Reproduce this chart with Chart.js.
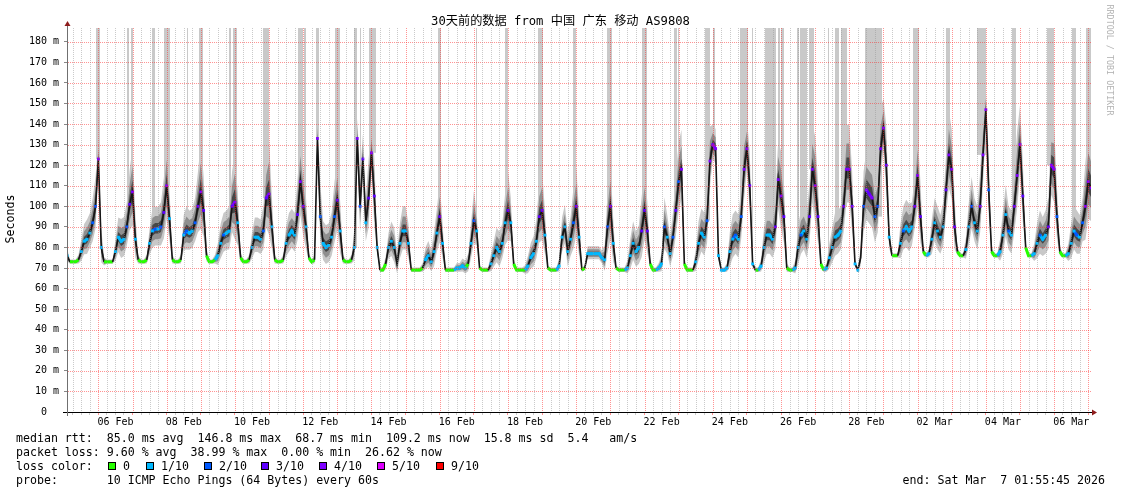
<!DOCTYPE html>
<html>
<head>
<meta charset="utf-8">
<title>SmokePing 30 days</title>
<script src="https://cdn.jsdelivr.net/npm/chart.js@4.4.1/dist/chart.umd.min.js"></script>
<style>
    html, body { margin: 0; padding: 0; background: #fff; }
    #wrap { position: relative; width: 1121px; height: 494px; overflow: hidden; }
    #chart { position: absolute; left: 0; top: 0; }
    .mono { position: absolute; font-family: "DejaVu Sans Mono", monospace; white-space: pre; color: #000; }
    .title { left: 0; width: 1121px; top: 13px; line-height: 16px; text-align: center;
             font-family: "DejaVu Sans Mono", "Noto Sans CJK SC", monospace; font-size: 12.2px; }
    .ylab { left: -30px; top: 212px; width: 80px; height: 14px; line-height: 14px; text-align: center;
            font-size: 11.6px; transform: rotate(-90deg); }
    .mark { left: 1050px; top: 55px; width: 120px; height: 10px; line-height: 10px; text-align: center;
            font-size: 8.4px; color: #b4b4b4; transform: rotate(90deg); }
    .leg { font-size: 11.6px; line-height: 14px; }
    .box { position: absolute; width: 6px; height: 6px; border: 1px solid #000; }
</style>
</head>
<body>
<div id="wrap">
    <canvas id="chart" width="1121" height="494"></canvas>
    <div class="mono title">30天前的数据 from 中国 广东 移动 AS9808</div>
    <div class="mono ylab">Seconds</div>
    <div class="mono mark">RRDTOOL / TOBI OETIKER</div>
    <div class="mono leg" style="left:16px;top:431px">median rtt:  85.0 ms avg  146.8 ms max  68.7 ms min  109.2 ms now  15.8 ms sd  5.4   am/s</div>
    <div class="mono leg" style="left:16px;top:445px">packet loss: 9.60 % avg  38.99 % max  0.00 % min  26.62 % now</div>
    <div class="mono leg" style="left:16px;top:459px">loss color:</div>
    <div id="lossLegend"></div>
    <div class="mono leg" style="left:16px;top:473px">probe:       10 ICMP Echo Pings (64 Bytes) every 60s</div>
    <div class="mono leg" style="right:16px;top:473px">end: Sat Mar  7 01:55:45 2026</div>
</div>
<script>
(function () {
    "use strict";

    // Time axis: hours counted from 05 Feb 00:00, samples every 2 hours
    var startHour = 1.93;      // 05 Feb 01:55:45
    var endHour = 721.93;      // 07 Mar 01:55:45
    var firstHour = 2;
    var stepHours = 2;

    var xLabels = ['06 Feb', '08 Feb', '10 Feb', '12 Feb', '14 Feb', '16 Feb', '18 Feb', '20 Feb',
                   '22 Feb', '24 Feb', '26 Feb', '28 Feb', '02 Mar', '04 Mar', '06 Mar'];
    var yLabels = ['0', '10 m', '20 m', '30 m', '40 m', '50 m', '60 m', '70 m', '80 m', '90 m',
                   '100 m', '110 m', '120 m', '130 m', '140 m', '150 m', '160 m', '170 m', '180 m'];

    // Median RTT (ms), one row per day, 00:00 .. 22:00
    var median = [
        76, 73, 73, 73, 74, 78, 83, 84, 87, 92, 100,                // 05 Feb (from 02:00)
        123, 80, 73, 73, 73, 73, 78, 85, 83, 84, 90, 101,          // 06 Feb
        107, 84, 74, 73, 73, 74, 82, 88, 89, 89, 90, 97,           // 07 Feb
        110, 94, 74, 73, 73, 74, 86, 88, 87, 88, 92, 100,          // 08 Feb
        107, 98, 76, 73, 73, 74, 76, 82, 86, 87, 88, 100,          // 09 Feb
        102, 92, 75, 73, 73, 74, 80, 85, 85, 84, 88, 104,          // 10 Feb
        106, 90, 74, 73, 73, 74, 82, 86, 88, 86, 96, 112,          // 11 Feb
        100, 90, 75, 73, 74, 133, 95, 82, 80, 81, 85, 95,          // 12 Feb
        103, 88, 74, 73, 73, 74, 80, 133, 100, 123, 92, 104,       // 13 Feb
        126, 105, 80, 69, 69, 72, 80, 83, 80, 72, 82, 88,          // 14 Feb
        88, 82, 69, 69, 69, 69, 70, 74, 76, 73, 78, 87,            // 15 Feb
        95, 82, 69, 69, 69, 69, 70, 70, 71, 70, 72, 82,            // 16 Feb
        93, 88, 70, 69, 69, 69, 72, 76, 80, 78, 82, 92,            // 17 Feb
        98, 92, 72, 69, 69, 69, 69, 71, 75, 77, 83, 95,            // 18 Feb
        98, 86, 70, 69, 69, 69, 71, 85, 90, 78, 84, 92,            // 19 Feb
        100, 85, 69, 70, 77, 77, 77, 77, 77, 75, 74, 90,           // 20 Feb
        100, 82, 70, 69, 69, 69, 70, 76, 82, 78, 80, 88,           // 21 Feb
        98, 88, 72, 69, 69, 70, 72, 90, 85, 77, 85, 98,            // 22 Feb
        112, 118, 72, 69, 69, 69, 73, 82, 87, 85, 93, 122,         // 23 Feb
        130, 128, 76, 69, 69, 70, 78, 84, 86, 84, 95, 118,         // 24 Feb
        128, 110, 72, 69, 69, 71, 80, 86, 86, 84, 90, 113,         // 25 Feb
        105, 95, 70, 69, 69, 70, 80, 86, 88, 84, 95, 118,          // 26 Feb
        110, 95, 72, 69, 70, 75, 80, 85, 86, 88, 100, 118,         // 27 Feb
        118, 100, 72, 69, 75, 100, 108, 106, 104, 95, 100, 128,    // 28 Feb
        138, 120, 85, 76, 76, 76, 82, 88, 90, 88, 90, 100,         // 01 Mar
        115, 95, 78, 76, 77, 84, 92, 88, 85, 90, 108, 125,         // 02 Mar
        118, 90, 78, 76, 76, 79, 90, 100, 92, 88, 100, 125,        // 03 Mar
        147, 108, 78, 76, 76, 78, 86, 96, 88, 86, 100, 115,        // 04 Mar
        130, 105, 80, 76, 76, 77, 82, 86, 84, 86, 90, 120,         // 05 Mar
        118, 95, 78, 76, 76, 77, 82, 88, 86, 85, 92, 100,          // 06 Mar
        112, 109                                                   // 07 Mar
    ];

    // Packet loss, in tenths (0 .. 9)
    var loss = [
        1, 0, 0, 0, 0, 1, 1, 1, 1, 2, 2,
        4, 1, 0, 0, 0, 0, 1, 1, 1, 1, 2, 3,
        4, 1, 0, 0, 0, 0, 1, 1, 2, 1, 2, 3,
        4, 1, 0, 0, 0, 0, 1, 2, 1, 1, 2, 3,
        4, 3, 0, 0, 0, 0, 1, 1, 2, 1, 1, 3,
        4, 1, 0, 0, 0, 0, 1, 1, 1, 1, 2, 3,
        4, 1, 0, 0, 0, 0, 1, 1, 1, 1, 3, 4,
        3, 1, 0, 0, 0, 4, 2, 1, 1, 1, 1, 2,
        3, 1, 0, 0, 0, 0, 1, 4, 2, 3, 1, 3,
        4, 3, 1, 0, 0, 0, 1, 1, 1, 0, 1, 1,
        1, 1, 0, 0, 0, 0, 0, 1, 1, 1, 1, 1,
        3, 1, 0, 0, 0, 0, 1, 1, 1, 1, 0, 1,
        2, 1, 0, 0, 0, 0, 1, 1, 1, 1, 1, 1,
        3, 1, 0, 0, 0, 0, 0, 1, 1, 1, 1, 3,
        3, 1, 0, 0, 0, 0, 1, 1, 1, 1, 1, 2,
        3, 1, 0, 0, 1, 1, 1, 1, 1, 1, 1, 2,
        3, 1, 0, 0, 0, 0, 1, 1, 1, 1, 1, 3,
        3, 3, 0, 0, 0, 1, 1, 2, 1, 1, 2, 3,
        2, 4, 0, 0, 0, 0, 1, 1, 1, 1, 2, 4,
        4, 4, 1, 1, 1, 1, 1, 1, 2, 1, 2, 4,
        4, 3, 1, 0, 0, 1, 1, 1, 1, 1, 3, 4,
        4, 3, 0, 0, 0, 1, 1, 2, 1, 1, 3, 4,
        4, 3, 0, 0, 1, 1, 1, 1, 1, 1, 3, 4,
        4, 3, 1, 1, 0, 2, 4, 3, 4, 2, 2, 4,
        4, 3, 1, 0, 0, 0, 1, 2, 1, 1, 1, 3,
        4, 3, 0, 0, 1, 1, 1, 1, 1, 1, 3, 4,
        4, 3, 0, 0, 0, 1, 1, 2, 1, 1, 3, 4,
        4, 2, 0, 0, 0, 1, 1, 1, 2, 1, 3, 4,
        4, 3, 0, 0, 0, 1, 1, 2, 1, 1, 3, 4,
        4, 2, 0, 0, 0, 1, 1, 1, 2, 1, 2, 4,
        4, 4
    ];

    // Smoke spread (ms) around the median
    var spread = [
        3, 1, 1, 1, 2, 5, 7, 8, 8, 10, 12,
        8, 8, 2, 1, 1, 1, 5, 8, 9, 9, 10, 14,
        18, 10, 2, 1, 1, 2, 6, 9, 9, 9, 10, 14,
        18, 12, 2, 1, 1, 2, 8, 10, 9, 9, 10, 14,
        20, 14, 3, 1, 1, 2, 5, 8, 9, 9, 10, 14,
        20, 12, 2, 1, 1, 2, 6, 8, 8, 8, 10, 16,
        22, 12, 2, 1, 1, 2, 7, 9, 9, 9, 14, 18,
        16, 12, 2, 1, 2, 8, 14, 9, 9, 9, 10, 14,
        16, 12, 2, 1, 1, 2, 7, 8, 14, 10, 10, 16,
        10, 16, 3, 1, 1, 3, 6, 8, 8, 5, 8, 10,
        10, 8, 1, 1, 1, 1, 2, 5, 6, 5, 8, 10,
        14, 8, 1, 1, 1, 1, 2, 2, 3, 3, 4, 8,
        12, 8, 1, 1, 1, 1, 4, 6, 8, 8, 8, 12,
        16, 10, 2, 1, 1, 1, 2, 4, 6, 7, 9, 14,
        16, 10, 1, 1, 1, 1, 3, 8, 9, 8, 9, 14,
        16, 10, 1, 1, 3, 3, 3, 3, 3, 3, 6, 14,
        18, 10, 1, 1, 1, 1, 3, 7, 9, 8, 9, 14,
        16, 12, 2, 1, 1, 2, 4, 12, 9, 7, 10, 14,
        16, 16, 2, 1, 1, 1, 5, 9, 10, 10, 12, 14,
        8, 8, 3, 1, 1, 2, 8, 10, 10, 10, 12, 16,
        12, 14, 2, 1, 1, 3, 8, 10, 10, 10, 12, 16,
        18, 14, 2, 1, 1, 3, 9, 10, 10, 10, 14, 18,
        20, 14, 2, 1, 2, 6, 8, 10, 10, 10, 14, 18,
        18, 14, 2, 1, 4, 14, 16, 16, 16, 14, 14, 16,
        12, 16, 6, 1, 1, 1, 8, 10, 11, 11, 10, 12,
        18, 14, 2, 1, 2, 8, 10, 10, 9, 10, 14, 18,
        16, 12, 2, 1, 1, 5, 10, 12, 10, 10, 14, 16,
        8, 14, 2, 1, 1, 5, 10, 12, 10, 10, 14, 18,
        16, 14, 2, 1, 1, 4, 8, 10, 9, 10, 12, 16,
        18, 12, 2, 1, 1, 4, 8, 10, 10, 9, 10, 18,
        20, 18
    ];

    // Outlier pings above the graph top: [from hour, to hour]
    var outliers = [
        [22.5, 24.9], [44.1, 45.5], [46.9, 48.3], [61.7, 63.8], [70.1, 74.4], [86.3, 87.0],
        [94.8, 97.6], [115.9, 117.3], [118.7, 121.5], [139.6, 144.2], [164.2, 167.7],
        [168.6, 170.0], [177.0, 179.4], [190.6, 193.9], [204.0, 205.7], [208.0, 208.7],
        [214.5, 219.2], [262.8, 265.2], [289.8, 290.5], [309.7, 312.1], [333.2, 336.7],
        [357.8, 360.1], [381.5, 385.0], [406.1, 409.6], [428.8, 430.7], [431.4, 432.5],
        [450.6, 454.1], [456.4, 457.6], [475.2, 477.1], [477.5, 480.6], [483.6, 484.4],
        [493.0, 500.5], [501.9, 503.5], [504.3, 505.9], [515.3, 516.5], [517.6, 522.3],
        [524.0, 527.0], [537.1, 538.0], [541.8, 545.0], [546.5, 550.5], [563.3, 575.1],
        [596.7, 600.9], [619.9, 622.9], [642.1, 648.0], [666.7, 669.1], [691.3, 696.0],
        [708.9, 711.3], [718.3, 721.8]
    ];

    var lossLevels = [0, 1, 2, 3, 4, 5, 9];
    var lossNames = ['0', '1/10', '2/10', '3/10', '4/10', '5/10', '9/10'];


    // Colours
    var lossColors = { 0: '#26ff00', 1: '#00b8ff', 2: '#0059ff', 3: '#5e00ff', 4: '#7e00ff', 5: '#dd00ff', 9: '#ff0000' };
    var majorGrid = 'rgba(255, 40, 40, 0.5)';
    var minorGrid = 'rgba(150, 150, 150, 0.5)';
    var monoFont = 'DejaVu Sans Mono';


    // Loss colour legend
    var legendBoxX = [108, 146, 204, 261, 319, 377, 436];
    var legendHtml = '';
    lossLevels.forEach(function (lv, i) {
        legendHtml += '<div class="box" style="left:' + legendBoxX[i] + 'px;top:462px;background:' + lossColors[lv] + '"></div>';
        legendHtml += '<div class="mono leg" style="left:' + (legendBoxX[i] + 15) + 'px;top:459px">' + lossNames[i] + '</div>';
    });
    document.getElementById('lossLegend').innerHTML = legendHtml;


    var hours = median.map(function (v, i) { return firstHour + i * stepHours; });

    function band(k) {
        return median.map(function (v, i) { return { x: hours[i], y: v + spread[i] * k }; });
    }

    function medianAt(h) {
        var i = Math.round((h - firstHour) / stepHours);
        i = Math.max(0, Math.min(median.length - 1, i));
        return median[i];
    }


    // Outlier bars, drawn behind the smoke
    var outlierPlugin = {
        id: 'outliers',
        beforeDatasetsDraw: function (chart) {
            var xs = chart.scales.x, ys = chart.scales.y, a = chart.chartArea, ctx = chart.ctx;
            ctx.save();
            ctx.beginPath();
            ctx.rect(a.left, a.top, a.right - a.left, a.bottom - a.top);
            ctx.clip();
            ctx.fillStyle = '#c9c9c9';
            outliers.forEach(function (o) {
                var x0 = Math.round(xs.getPixelForValue(o[0]));
                var x1 = Math.round(xs.getPixelForValue(o[1]));
                var yb = ys.getPixelForValue(medianAt((o[0] + o[1]) / 2));
                ctx.fillRect(x0, a.top, Math.max(1, x1 - x0), yb - a.top);
            });
            ctx.restore();
        }
    };


    // Dotted rrdtool style grid, drawn over the graph
    var gridPlugin = {
        id: 'dotGrid',
        afterDatasetsDraw: function (chart) {
            var xs = chart.scales.x, ys = chart.scales.y, a = chart.chartArea, ctx = chart.ctx;
            var top = Math.round(a.top), bottom = Math.round(a.bottom);
            var left = Math.round(a.left), right = Math.round(a.right);
            ctx.save();
            ys.ticks.forEach(function (t) {
                if (t.value === 0) { return; }
                var py = Math.round(ys.getPixelForValue(t.value));
                ctx.fillStyle = t.value % 10 === 0 ? majorGrid : minorGrid;
                for (var xx = left + 1; xx < right; xx += 2) { ctx.fillRect(xx, py, 1, 1); }
            });
            xs.ticks.forEach(function (t) {
                var px = Math.round(xs.getPixelForValue(t.value));
                ctx.fillStyle = t.value % 24 === 0 ? majorGrid : minorGrid;
                for (var yy = top; yy < bottom; yy += 2) { ctx.fillRect(px, yy, 1, 1); }
            });
            ctx.restore();
        }
    };


    // Axis lines with arrow heads
    var axesPlugin = {
        id: 'axes',
        afterDraw: function (chart) {
            var a = chart.chartArea, ctx = chart.ctx;
            ctx.save();
            ctx.lineWidth = 1;
            ctx.strokeStyle = '#000';
            ctx.beginPath();
            ctx.moveTo(a.left - 4, a.bottom + 0.5);
            ctx.lineTo(a.right + 2, a.bottom + 0.5);
            ctx.stroke();
            ctx.strokeStyle = '#707070';
            ctx.beginPath();
            ctx.moveTo(a.left + 0.5, a.bottom + 4);
            ctx.lineTo(a.left + 0.5, a.top - 3);
            ctx.stroke();
            ctx.fillStyle = '#8e1c1c';
            ctx.beginPath();
            ctx.moveTo(a.left + 0.5, a.top - 7);
            ctx.lineTo(a.left - 2.5, a.top - 2);
            ctx.lineTo(a.left + 3.5, a.top - 2);
            ctx.closePath();
            ctx.fill();
            ctx.beginPath();
            ctx.moveTo(a.right + 6, a.bottom + 0.5);
            ctx.lineTo(a.right + 1, a.bottom - 2.5);
            ctx.lineTo(a.right + 1, a.bottom + 3.5);
            ctx.closePath();
            ctx.fill();
            ctx.restore();
        }
    };


    function smoke(k, color, fillIt, order) {
        return {
            data: band(k),
            borderColor: 'rgba(0,0,0,0)',
            borderWidth: 0,
            backgroundColor: color,
            fill: fillIt ? '+1' : false,
            pointRadius: 0,
            tension: 0,
            order: order
        };
    }

    var ctx = document.getElementById('chart').getContext('2d');
    new Chart(ctx, {
        type: 'line',
        data: {
            datasets: [
                smoke(1.2, '#c8c8c8', true, 10),
                smoke(-0.9, '#c8c8c8', false, 10),
                smoke(0.7, '#8f8f8f', true, 9),
                smoke(-0.55, '#8f8f8f', false, 9),
                smoke(0.32, '#474747', true, 8),
                smoke(-0.25, '#474747', false, 8),
                {
                    // Median, coloured by loss where it runs flat
                    data: median.map(function (v, i) { return { x: hours[i], y: v }; }),
                    borderColor: '#161616',
                    borderWidth: 1.6,
                    tension: 0,
                    fill: false,
                    order: 1,
                    pointStyle: 'rect',
                    pointRadius: function (c) { return loss[c.dataIndex] > 0 ? 2 : 0; },
                    pointBackgroundColor: function (c) { return lossColors[loss[c.dataIndex]]; },
                    pointBorderWidth: 0,
                    segment: {
                        borderColor: function (c) {
                            var l0 = loss[c.p0DataIndex], l1 = loss[c.p1DataIndex];
                            if (l0 === 0 && l1 === 0) { return lossColors[0]; }
                            if (Math.abs(c.p1.parsed.y - c.p0.parsed.y) < 2.5) { return lossColors[l1]; }
                            return undefined;
                        },
                        borderWidth: function (c) {
                            var l0 = loss[c.p0DataIndex], l1 = loss[c.p1DataIndex];
                            if ((l0 === 0 && l1 === 0) || Math.abs(c.p1.parsed.y - c.p0.parsed.y) < 2.5) { return 3; }
                            return undefined;
                        }
                    }
                }
            ]
        },
        options: {
            responsive: false,
            animation: false,
            events: [],
            layout: { padding: { top: 28, right: 30, left: 0, bottom: 0 } },
            plugins: {
                legend: { display: false },
                tooltip: { enabled: false },
                title: { display: false }
            },
            scales: {
                x: {
                    type: 'linear',
                    min: startHour,
                    max: endHour,
                    z: 1,
                    afterBuildTicks: function (scale) {
                        var t = [];
                        for (var h = 6; h <= 720; h += 6) { t.push({ value: h }); }
                        scale.ticks = t;
                    },
                    afterFit: function (scale) { scale.height = 82; },
                    grid: {
                        drawOnChartArea: false,
                        tickColor: function (c) { return c.tick && c.tick.value % 24 === 0 ? majorGrid : minorGrid; },
                        tickLength: 3,
                        tickBorderDash: []
                    },
                    border: { display: false },
                    ticks: {
                        autoSkip: false,
                        maxRotation: 0,
                        minRotation: 0,
                        padding: 1,
                        color: '#000',
                        font: { family: monoFont, size: 10 },
                        callback: function (value) {
                            if ((value - 36) % 48 === 0) { return xLabels[(value - 36) / 48]; }
                            return '';
                        }
                    }
                },
                y: {
                    min: 0,
                    max: 186.7,
                    z: 1,
                    afterBuildTicks: function (scale) {
                        var t = [];
                        for (var v = 0; v <= 185; v += 5) { t.push({ value: v }); }
                        scale.ticks = t;
                    },
                    afterFit: function (scale) { scale.width = 67; },
                    grid: {
                        drawOnChartArea: false,
                        tickColor: function (c) { return c.tick && c.tick.value % 10 === 0 ? '#888' : 'rgba(0,0,0,0)'; },
                        tickLength: 3,
                        tickBorderDash: []
                    },
                    border: { display: false },
                    ticks: {
                        padding: 5,
                        color: '#000',
                        font: { family: monoFont, size: 10 },
                        callback: function (value) {
                            if (value % 10 !== 0) { return ''; }
                            var s = yLabels[value / 10];
                            return s === '0' ? '0  ' : s;
                        }
                    }
                }
            }
        },
        plugins: [outlierPlugin, gridPlugin, axesPlugin]
    });

})();
</script>
</body>
</html>
